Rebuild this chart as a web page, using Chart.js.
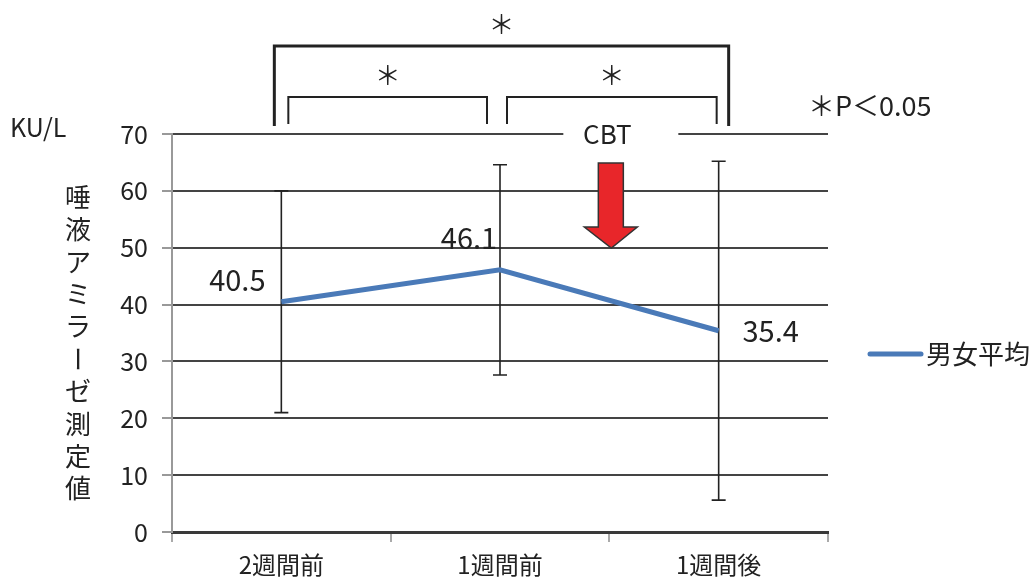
<!DOCTYPE html>
<html>
<head>
<meta charset="utf-8">
<script src="https://cdn.jsdelivr.net/npm/chart.js@4.4.0/dist/chart.umd.min.js"></script>
<style>
html, body { margin: 0; padding: 0; background: #fff; }
</style>
</head>
<body>
<canvas id="myChart" width="1033" height="580"></canvas>
<script>
// データ
var labels = ['2週間前', '1週間前', '1週間後'];
var means = [40.5, 46.1, 35.4];
var sds = [19.5, 18.5, 29.8];
var seriesName = '男女平均';
var yMin = 0, yMax = 70, yStep = 10;
var unitLabel = 'KU/L';
var yTitle = '唾液アミラーゼ測定値';
var sigPairs = [[0, 1], [1, 2], [0, 2]];
var sigMark = '＊';
var sigNote = '＊P＜0.05';
var eventLabel = 'CBT';

var FONT = "'Noto Sans CJK JP', 'Noto Sans', sans-serif";
var lineColor = '#4a7ab8';

// 値ラベルの位置ずれ (px)
var labelShift = [[-44, -22], [-31, -32], [52, 0]];

var overlay = {
    id: 'overlay',
    beforeDatasetsDraw: function(chart) {
        var c = chart.ctx, x = chart.scales.x, y = chart.scales.y;
        c.save();
        c.strokeStyle = '#222';
        c.lineWidth = 1.6;
        for (var i = 0; i < means.length; i++) {
            var px = x.getPixelForValue(i);
            var top = y.getPixelForValue(means[i] + sds[i]);
            var bot = y.getPixelForValue(means[i] - sds[i]);
            c.beginPath();
            c.moveTo(px, top); c.lineTo(px, bot);
            c.moveTo(px - 7, top); c.lineTo(px + 7, top);
            c.moveTo(px - 7, bot); c.lineTo(px + 7, bot);
            c.stroke();
        }
        c.restore();
    },
    afterDatasetsDraw: function(chart) {
        var c = chart.ctx, x = chart.scales.x, y = chart.scales.y;
        c.save();
        c.font = '29px ' + FONT;
        c.fillStyle = '#222';
        c.textAlign = 'center';
        c.textBaseline = 'middle';
        for (var i = 0; i < means.length; i++) {
            c.fillText(means[i].toFixed(1), x.getPixelForValue(i) + labelShift[i][0], y.getPixelForValue(means[i]) + labelShift[i][1]);
        }
        c.restore();
    },
    afterDraw: function(chart) {
        var c = chart.ctx, x = chart.scales.x, y = chart.scales.y, area = chart.chartArea;
        c.save();

        // CBT ラベル (上の線を切る)
        var mid = (x.getPixelForValue(1) + x.getPixelForValue(2)) / 2;
        c.fillStyle = '#fff';
        c.fillRect(mid - 46, area.top - 4, 115, 8);
        c.fillStyle = '#222';
        c.font = '26px ' + FONT;
        c.textAlign = 'center';
        c.textBaseline = 'middle';
        c.fillText(eventLabel, mid - 2, area.top);

        // 赤い矢印
        var ax = mid + 2;
        c.beginPath();
        c.moveTo(ax - 13, 163);
        c.lineTo(ax + 12, 163);
        c.lineTo(ax + 12, 227);
        c.lineTo(ax + 26, 227);
        c.lineTo(ax, 248);
        c.lineTo(ax - 27, 227);
        c.lineTo(ax - 13, 227);
        c.closePath();
        c.fillStyle = '#e8262a';
        c.fill();
        c.strokeStyle = '#333';
        c.lineWidth = 1.5;
        c.stroke();

        // 有意差ブラケット
        sigPairs.forEach(function(p) {
            var x1 = x.getPixelForValue(p[0]), x2 = x.getPixelForValue(p[1]);
            var big = (p[1] - p[0]) > 1, top, bot, l, r;
            if (big) {
                l = x1 - 7; r = x2 + 10; top = 46; bot = 126;
                c.lineWidth = 3;
            } else {
                l = x1 + 7; r = x2 - (p[1] === 1 ? 13 : 2); top = 97; bot = 124;
                c.lineWidth = 2;
            }
            c.strokeStyle = '#222';
            c.beginPath();
            c.moveTo(l, bot); c.lineTo(l, top); c.lineTo(r, top); c.lineTo(r, bot);
            c.stroke();
            c.fillStyle = '#222';
            c.font = '26px ' + FONT;
            c.textAlign = 'center';
            c.textBaseline = 'middle';
            c.fillText(sigMark, (l + r) / 2, top - 22);
        });

        // 注記
        c.font = '27px ' + FONT;
        c.textAlign = 'left';
        c.textBaseline = 'middle';
        c.fillText(sigNote, 808, 106);

        // 単位
        c.font = '25px ' + FONT;
        c.fillText(unitLabel, 10, 127);

        // 縦書きタイトル
        c.font = '26px ' + FONT;
        c.textAlign = 'center';
        for (var i = 0; i < yTitle.length; i++) {
            var ch = yTitle[i], cy = 197 + i * 32.4;
            if (ch === 'ー') {
                c.save();
                c.translate(78, cy);
                c.rotate(Math.PI / 2);
                c.fillText(ch, 0, 0);
                c.restore();
            } else {
                c.fillText(ch, 78, cy);
            }
        }

        // 凡例
        var ly = 354;
        c.strokeStyle = lineColor;
        c.lineWidth = 5;
        c.lineCap = 'round';
        c.beginPath();
        c.moveTo(870, ly); c.lineTo(921, ly);
        c.stroke();
        c.font = '26px ' + FONT;
        c.textAlign = 'left';
        c.fillStyle = '#222';
        c.fillText(chart.data.datasets[0].label, 926, ly);

        c.restore();
    }
};

var ctx = document.getElementById('myChart').getContext('2d');
var chart = new Chart(ctx, {
    type: 'line',
    data: {
        labels: labels,
        datasets: [{
            label: seriesName,
            data: means,
            borderColor: lineColor,
            backgroundColor: lineColor,
            borderWidth: 5,
            pointRadius: 0,
            tension: 0,
            fill: false
        }]
    },
    options: {
        responsive: false,
        animation: false,
        devicePixelRatio: 1,
        layout: { padding: { top: 134, right: 205, bottom: 0, left: 0 } },
        plugins: {
            legend: { display: false },
            tooltip: { enabled: false }
        },
        scales: {
            x: {
                offset: true,
                grid: { display: true, offset: true, drawOnChartArea: false, tickLength: 10, color: '#aaa', lineWidth: 2 },
                border: { display: true, color: '#3a3a3a', width: 3 },
                ticks: { font: { family: FONT, size: 24 }, color: '#222', padding: 8, maxRotation: 0 },
                afterFit: function(s) { s.height = 48; }
            },
            y: {
                min: yMin,
                max: yMax,
                ticks: { stepSize: yStep, font: { family: FONT, size: 25 }, color: '#222', padding: 14 },
                grid: { color: '#444', lineWidth: 2, tickLength: 10, tickColor: '#999' },
                border: { display: true, color: '#999', width: 2 },
                afterFit: function(s) { s.width = 172; }
            }
        }
    },
    plugins: [overlay]
});
</script>
</body>
</html>
